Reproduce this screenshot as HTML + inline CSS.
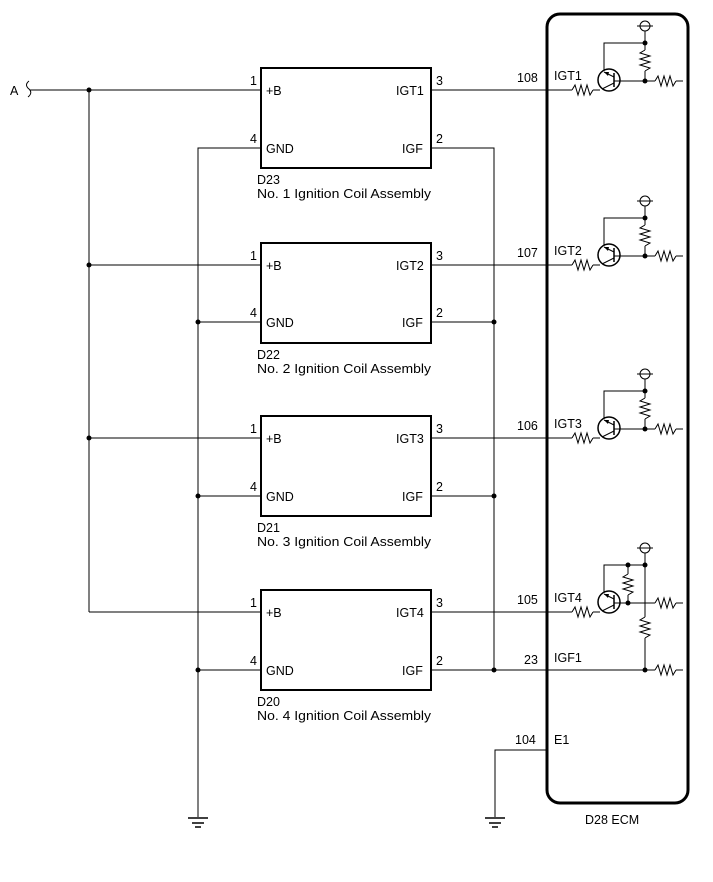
<!DOCTYPE html>
<html><head><meta charset="utf-8"><style>
html,body{margin:0;padding:0;background:#fff;}
svg{display:block;font-family:"Liberation Sans",Arial,sans-serif;font-size:12.5px;}
</style></head><body>
<svg width="713" height="882" viewBox="0 0 713 882" xmlns="http://www.w3.org/2000/svg">
<g fill="none" stroke="#000" stroke-width="1">
<path d="M29 81 q-5 4 0 8 q4 4 -1 8"/>
<line x1="30" y1="90" x2="261" y2="90"/>
<line x1="89" y1="90" x2="89" y2="612"/>
<line x1="89" y1="265" x2="261" y2="265"/>
<line x1="89" y1="438" x2="261" y2="438"/>
<line x1="89" y1="612" x2="261" y2="612"/>
<polyline points="261,148 198,148 198,817"/>
<line x1="198" y1="322" x2="261" y2="322"/>
<line x1="198" y1="496" x2="261" y2="496"/>
<line x1="198" y1="670" x2="261" y2="670"/>
<polyline points="431,148 494,148 494,670"/>
<line x1="431" y1="322" x2="494" y2="322"/>
<line x1="431" y1="496" x2="494" y2="496"/>
<line x1="431" y1="670" x2="547" y2="670"/>
<line x1="431" y1="90" x2="572" y2="90"/>
<line x1="431" y1="265" x2="572" y2="265"/>
<line x1="431" y1="438" x2="572" y2="438"/>
<line x1="431" y1="612" x2="572" y2="612"/>
<polyline points="547,750 495,750 495,817"/>
<line x1="188" y1="818" x2="208" y2="818" stroke-width="1.5"/>
<line x1="192" y1="823" x2="204" y2="823" stroke-width="1.5"/>
<line x1="195" y1="827" x2="201" y2="827" stroke-width="1.5"/>
<line x1="485" y1="818" x2="505" y2="818" stroke-width="1.5"/>
<line x1="489" y1="823" x2="501" y2="823" stroke-width="1.5"/>
<line x1="492" y1="827" x2="498" y2="827" stroke-width="1.5"/>
<rect x="261" y="68" width="170" height="100" stroke-width="2"/>
<rect x="261" y="243" width="170" height="100" stroke-width="2"/>
<rect x="261" y="416" width="170" height="100" stroke-width="2"/>
<rect x="261" y="590" width="170" height="100" stroke-width="2"/>
<rect x="547" y="14" width="141" height="789" rx="13" stroke-width="3"/>
</g>
<g fill="#000">
<circle cx="89" cy="90" r="2.5"/><circle cx="89" cy="265" r="2.5"/><circle cx="89" cy="438" r="2.5"/>
<circle cx="198" cy="322" r="2.5"/><circle cx="198" cy="496" r="2.5"/><circle cx="198" cy="670" r="2.5"/>
<circle cx="494" cy="322" r="2.5"/><circle cx="494" cy="496" r="2.5"/><circle cx="494" cy="670" r="2.5"/>
</g>
<defs>
<g id="rh"><polyline fill="none" stroke="#000" points="0,0 3,-5 6,5 9,-5 12,5 15,-5 18,5 21,0"/></g>
<g id="rv"><polyline fill="none" stroke="#000" points="0,0 -5,3 5,6 -5,9 5,12 -5,15 5,18 0,21"/></g>
<g id="tr">
<circle cx="0" cy="0" r="11" fill="none" stroke="#000" stroke-width="1.5"/>
<line x1="5" y1="-7" x2="5" y2="7" stroke="#000" stroke-width="1.5"/>
<line x1="5" y1="3" x2="-7" y2="9" stroke="#000"/>
<line x1="5" y1="-3" x2="-5" y2="-8" stroke="#000"/>
<polygon points="-5,-8 -1,-4 0,-8" fill="#000"/>
<line x1="5" y1="1" x2="11" y2="1" stroke="#000"/>
</g>
<g id="vcc"><circle cx="0" cy="0" r="5" fill="none" stroke="#000"/><line x1="-8" y1="0" x2="8" y2="0" stroke="#000"/></g>
<g id="stage">
<line x1="593" y1="0" x2="600" y2="0" stroke="#000"/>
<use href="#rh" x="572" y="0"/>
<use href="#tr" x="609" y="-10"/>
<polyline fill="none" stroke="#000" points="604,-19 604,-47 645,-47"/>
<line x1="620" y1="-9" x2="655" y2="-9" stroke="#000"/>
<use href="#rh" x="655" y="-9"/>
<line x1="676" y1="-9" x2="683" y2="-9" stroke="#000"/>
<line x1="645" y1="-59" x2="645" y2="-40" stroke="#000"/>
<use href="#rv" x="645" y="-40"/>
<line x1="645" y1="-19" x2="645" y2="-9" stroke="#000"/>
<use href="#vcc" x="645" y="-64"/>
<circle cx="645" cy="-47" r="2.5"/><circle cx="645" cy="-9" r="2.5"/>
</g>
</defs>
<use href="#stage" x="0" y="90"/>
<use href="#stage" x="0" y="265"/>
<use href="#stage" x="0" y="438"/>
<g>
<line x1="593" y1="612" x2="600" y2="612" stroke="#000"/>
<use href="#rh" x="572" y="612"/>
<use href="#tr" x="609" y="602"/>
<polyline fill="none" stroke="#000" points="604,593 604,565 645,565"/>
<line x1="620" y1="603" x2="655" y2="603" stroke="#000"/>
<use href="#rh" x="655" y="603"/>
<line x1="676" y1="603" x2="683" y2="603" stroke="#000"/>
<line x1="628" y1="565" x2="628" y2="574" stroke="#000"/>
<use href="#rv" x="628" y="574"/>
<line x1="628" y1="595" x2="628" y2="603" stroke="#000"/>
<line x1="645" y1="553" x2="645" y2="617" stroke="#000"/>
<use href="#rv" x="645" y="617"/>
<line x1="645" y1="638" x2="645" y2="670" stroke="#000"/>
<line x1="547" y1="670" x2="655" y2="670" stroke="#000"/>
<use href="#rh" x="655" y="670"/>
<line x1="676" y1="670" x2="683" y2="670" stroke="#000"/>
<use href="#vcc" x="645" y="548"/>
<circle cx="628" cy="565" r="2.5"/><circle cx="645" cy="565" r="2.5"/><circle cx="628" cy="603" r="2.5"/><circle cx="645" cy="670" r="2.5"/>
</g>
<g fill="#000">
<text x="10" y="95">A</text>
<text x="250" y="85">1</text><text x="266" y="95">+B</text>
<text x="250" y="143">4</text><text x="266" y="153">GND</text>
<text x="396" y="95">IGT1</text><text x="436" y="85">3</text>
<text x="402" y="153">IGF</text><text x="436" y="143">2</text>
<text x="257" y="184">D23</text><text x="257" y="198" textLength="174" lengthAdjust="spacingAndGlyphs">No. 1 Ignition Coil Assembly</text>
<text x="250" y="260">1</text><text x="266" y="270">+B</text>
<text x="250" y="317">4</text><text x="266" y="327">GND</text>
<text x="396" y="270">IGT2</text><text x="436" y="260">3</text>
<text x="402" y="327">IGF</text><text x="436" y="317">2</text>
<text x="257" y="359">D22</text><text x="257" y="373" textLength="174" lengthAdjust="spacingAndGlyphs">No. 2 Ignition Coil Assembly</text>
<text x="250" y="433">1</text><text x="266" y="443">+B</text>
<text x="250" y="491">4</text><text x="266" y="501">GND</text>
<text x="396" y="443">IGT3</text><text x="436" y="433">3</text>
<text x="402" y="501">IGF</text><text x="436" y="491">2</text>
<text x="257" y="532">D21</text><text x="257" y="546" textLength="174" lengthAdjust="spacingAndGlyphs">No. 3 Ignition Coil Assembly</text>
<text x="250" y="607">1</text><text x="266" y="617">+B</text>
<text x="250" y="665">4</text><text x="266" y="675">GND</text>
<text x="396" y="617">IGT4</text><text x="436" y="607">3</text>
<text x="402" y="675">IGF</text><text x="436" y="665">2</text>
<text x="257" y="706">D20</text><text x="257" y="720" textLength="174" lengthAdjust="spacingAndGlyphs">No. 4 Ignition Coil Assembly</text>
<text x="517" y="82">108</text><text x="554" y="80">IGT1</text>
<text x="517" y="257">107</text><text x="554" y="255">IGT2</text>
<text x="517" y="430">106</text><text x="554" y="428">IGT3</text>
<text x="517" y="604">105</text><text x="554" y="602">IGT4</text>
<text x="524" y="664">23</text><text x="554" y="662">IGF1</text>
<text x="515" y="744">104</text><text x="554" y="744">E1</text>
<text x="585" y="824">D28 ECM</text>
</g>
</svg>
</body></html>
